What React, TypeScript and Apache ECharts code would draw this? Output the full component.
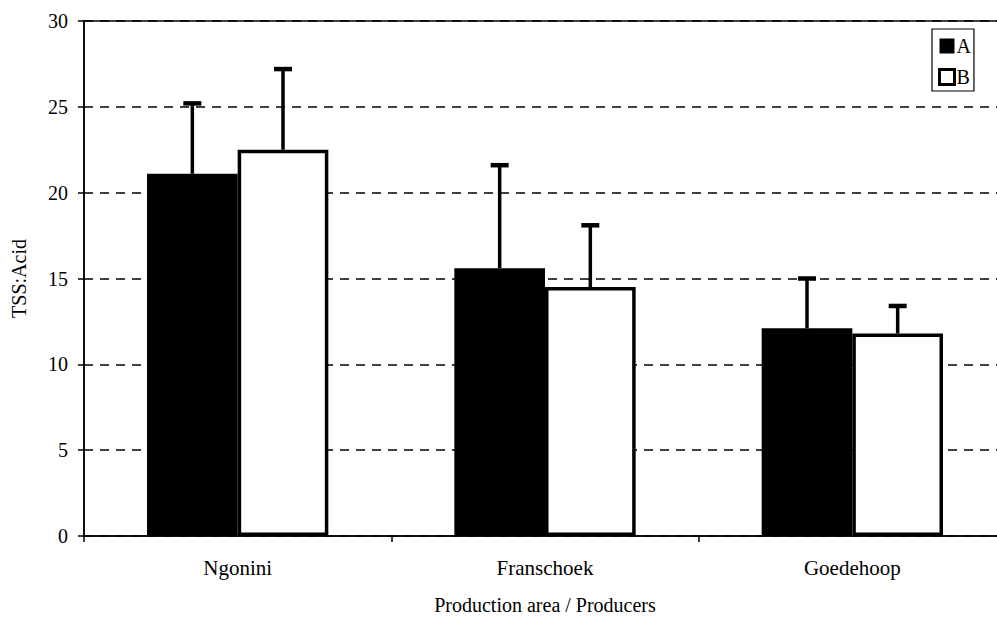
import React, { useEffect, useRef } from "react";
import * as echarts from "echarts";

// Production areas on the category axis
const categories = ["Ngonini", "Franschoek", "Goedehoop"];
// Mean TSS:Acid ratio per producer group
const seriesA = [21.1, 15.6, 12.1];
const seriesB = [22.5, 14.5, 11.8];
// Upper end of the error bar (mean + deviation)
const upperA = [25.2, 21.6, 15.0];
const upperB = [27.2, 18.1, 13.4];
const yTicks = { min: 0, max: 30, interval: 5 };

const FONT = "'Liberation Serif', 'Times New Roman', serif";
const CAT_GAP = 0.41;

export default function App() {
  const ref = useRef<HTMLDivElement>(null);

  useEffect(() => {
    if (!ref.current) return;
    const chart = echarts.init(ref.current, undefined, { renderer: "svg" });

    const errData: number[][] = [];
    categories.forEach((_, i) => {
      errData.push([i, upperA[i], seriesA[i], 0]);
      errData.push([i, upperB[i], seriesB[i], 1]);
    });

    chart.setOption({
      animation: false,
      backgroundColor: "#fff",
      grid: {
        left: 84,
        top: 21,
        width: 922,
        height: 516,
        show: true,
        borderColor: "#000",
        borderWidth: 1.5,
        backgroundColor: "transparent",
      },
      legend: {
        left: 932,
        top: 29,
        orient: "vertical",
        selectedMode: false,
        borderColor: "#000",
        borderWidth: 1.2,
        padding: [7, 3, 4, 6],
        itemWidth: 15,
        itemHeight: 15,
        itemGap: 11,
        textStyle: { fontFamily: FONT, fontSize: 20, color: "#000", padding: [0, 0, 0, -3] },
        data: [
          { name: "A", icon: "rect" },
          { name: "B", icon: "rect", itemStyle: { color: "#fff", borderColor: "#000", borderWidth: 3 } },
        ],
      },
      xAxis: {
        type: "category",
        data: categories,
        name: "Production area / Producers",
        nameLocation: "middle",
        nameGap: 59,
        nameTextStyle: { fontFamily: FONT, fontSize: 20, color: "#000" },
        axisLine: { lineStyle: { color: "#000", width: 1.5 } },
        axisTick: { show: true, length: 6, interval: 0, lineStyle: { color: "#000", width: 1.5 } },
        axisLabel: { fontFamily: FONT, fontSize: 21, color: "#000", margin: 21 },
        splitLine: { show: false },
      },
      yAxis: {
        type: "value",
        min: yTicks.min,
        max: yTicks.max,
        interval: yTicks.interval,
        name: "TSS:Acid",
        nameLocation: "middle",
        nameGap: 55,
        nameRotate: 90,
        nameTextStyle: { fontFamily: FONT, fontSize: 20, color: "#000" },
        axisLine: { show: true, lineStyle: { color: "#000", width: 1.5 } },
        axisTick: { show: true, length: 6, lineStyle: { color: "#000", width: 1.5 } },
        axisLabel: { fontFamily: FONT, fontSize: 20, color: "#000", margin: 16 },
        splitLine: { show: true, lineStyle: { color: "#000", width: 1.5, type: [9, 7] } },
      },
      series: [
        {
          name: "A",
          type: "bar",
          data: seriesA,
          barGap: "0%",
          barCategoryGap: `${CAT_GAP * 100}%`,
          itemStyle: { color: "#000" },
          z: 2,
        },
        {
          name: "B",
          type: "bar",
          data: seriesB,
          barGap: "0%",
          barCategoryGap: `${CAT_GAP * 100}%`,
          itemStyle: { color: "#fff", borderColor: "#000", borderWidth: 3.5 },
          z: 2,
        },
        {
          name: "err",
          type: "custom",
          z: 3,
          encode: { x: 0, y: 1 },
          data: errData,
          renderItem: (params: any, api: any) => {
            const cat = api.value(0);
            const hi = api.value(1);
            const lo = api.value(2);
            const side = api.value(3);
            const base = api.coord([cat, lo]);
            const top = api.coord([cat, hi]);
            const band = api.size([1, 0])[0];
            const group = band * (1 - CAT_GAP);
            const x = base[0] + (side === 0 ? -group / 4 : group / 4);
            return {
              type: "group",
              children: [
                {
                  type: "line",
                  shape: { x1: x, y1: base[1], x2: x, y2: top[1] },
                  style: { stroke: "#000", lineWidth: 3.5 },
                },
                {
                  type: "line",
                  shape: { x1: x - 9, y1: top[1], x2: x + 9, y2: top[1] },
                  style: { stroke: "#000", lineWidth: 4.5 },
                },
              ],
            };
          },
        },
      ],
    });

    return () => chart.dispose();
  }, []);

  // The plot runs a little past the right edge of the visible frame
  return (
    <div
      style={{
        position: "absolute",
        left: 0,
        top: 0,
        width: 997,
        height: 620,
        overflow: "hidden",
        background: "#fff",
      }}
    >
      <div ref={ref} style={{ width: 1030, height: 620 }} />
    </div>
  );
}
